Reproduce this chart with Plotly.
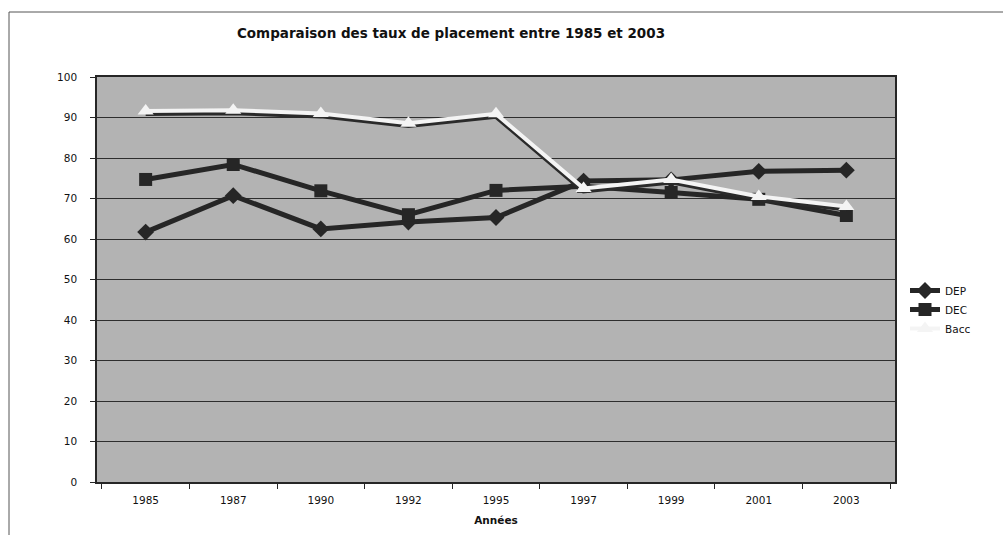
import plotly.graph_objects as go

# Taux de placement par année et par niveau de diplôme
annees = ["1985", "1987", "1990", "1992", "1995", "1997", "1999", "2001", "2003"]
dep = [61.7, 70.7, 62.5, 64.2, 65.3, 74.3, 74.6, 76.7, 77.0]
dec = [74.7, 78.4, 71.9, 66.0, 72.0, 73.0, 71.5, 69.8, 65.8]
bacc = [91.6, 91.8, 91.0, 88.6, 90.9, 72.5, 74.7, 70.5, 68.0]
y_ticks = [0, 10, 20, 30, 40, 50, 60, 70, 80, 90, 100]

W, H = 1003, 535
M = dict(l=97, r=108, t=77, b=53)
FONT = "DejaVu Sans, Verdana, sans-serif"
DARK = "#262626"
LIGHT = "#f4f4f4"

fig = go.Figure()

fig.add_trace(go.Scatter(
    x=annees, y=dep, name="DEP", mode="lines+markers",
    line=dict(color=DARK, width=5),
    marker=dict(symbol="diamond", size=13, color=DARK),
))
fig.add_trace(go.Scatter(
    x=annees, y=dec, name="DEC", mode="lines+markers",
    line=dict(color=DARK, width=5),
    marker=dict(symbol="square", size=13, color=DARK),
))
# dark drop shadow under the light Bacc line (axis shifted slightly down)
fig.add_trace(go.Scatter(
    x=annees, y=bacc, mode="lines", showlegend=False, hoverinfo="skip",
    line=dict(color="#2a2a2a", width=5), yaxis="y2",
))
fig.add_trace(go.Scatter(
    x=annees, y=bacc, name="Bacc", mode="lines+markers",
    line=dict(color=LIGHT, width=4),
    marker=dict(symbol="triangle-up", size=14, color=LIGHT),
    yaxis="y3",
))

pw = W - M["l"] - M["r"]
ph = H - M["t"] - M["b"]

def px_x(v):
    return (v - M["l"]) / pw

def px_y(v):
    return (H - M["b"] - v) / ph

fig.update_layout(
    width=W, height=H, margin=M,
    paper_bgcolor="white", plot_bgcolor="#b3b3b3",
    font=dict(family=FONT, size=10.5, color="#111"),
    title=dict(
        text="<b>Comparaison des taux de placement entre 1985 et 2003</b>",
        x=451 / W, xanchor="center", y=1 - 33 / H, yanchor="middle",
        font=dict(size=13.5, family=FONT, color="#111"),
    ),
    xaxis=dict(
        type="category", tickson="boundaries", ticks="outside", ticklen=5,
        tickcolor=DARK, showline=True, linecolor=DARK, linewidth=1.5,
        mirror=True, showgrid=False, tickfont=dict(size=10.5),
        ticklabelstandoff=8, automargin=False,
        title=dict(text="<b>Années</b>", font=dict(size=10.5), standoff=11),
    ),
    yaxis=dict(
        range=[0, 100], tickvals=y_ticks, ticks="outside", ticklen=5,
        tickcolor=DARK, showline=True, linecolor=DARK, linewidth=1.5,
        mirror=True, showgrid=True, gridcolor="#2e2e2e", gridwidth=1.3,
        zeroline=False, tickfont=dict(size=10.5), ticklabelstandoff=11,
        automargin=False,
    ),
    yaxis2=dict(range=[0.6, 100.6], overlaying="y", visible=False),
    yaxis3=dict(range=[0, 100], overlaying="y", visible=False),
    legend=dict(
        x=px_x(905), xanchor="left", y=px_y(276), yanchor="top",
        bgcolor="rgba(0,0,0,0)", font=dict(size=10.5), tracegroupgap=0,
        itemwidth=30,
    ),
    showlegend=True,
)

# outer chart frame
fig.add_shape(
    type="rect", xref="paper", yref="paper",
    x0=px_x(9), x1=px_x(1010), y0=px_y(545), y1=px_y(12),
    line=dict(color="#555", width=1), fillcolor="rgba(0,0,0,0)", layer="below",
)

fig.write_html("out.html")
